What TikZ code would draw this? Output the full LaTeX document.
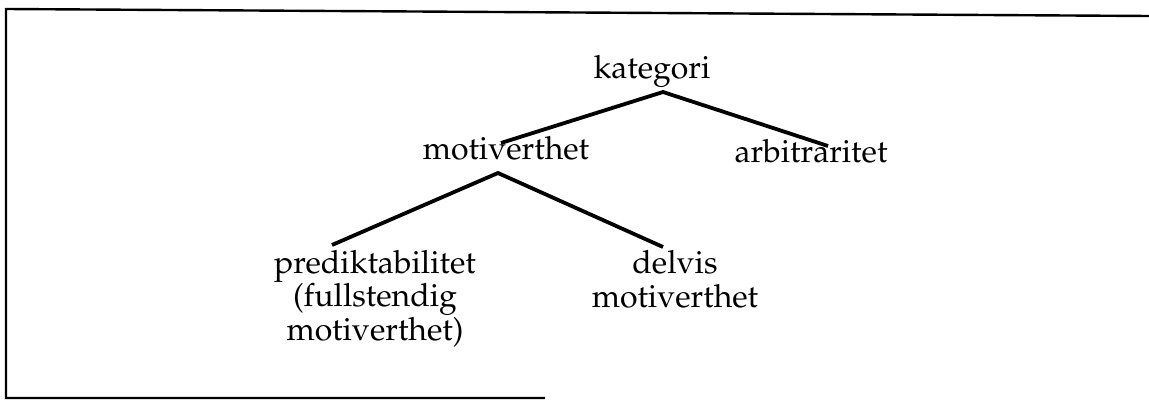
\documentclass[tikz,border=0pt]{standalone}
\usepackage[T1]{fontenc}
\renewcommand{\rmdefault}{ppl}
\begin{document}
\begin{tikzpicture}[x=1pt,y=-1pt,
  term/.style={font=\fontsize{32}{33.5}\selectfont, inner sep=0pt, align=center, anchor=base},
  branch/.style={line width=3.8pt},
  frameline/.style={line width=2.4pt}]
\useasboundingbox (0,0) rectangle (1149,401);
% open frame round the tree
\draw[frameline] (1149,16) -- (6,9) -- (6,398) -- (545,398);
% terms (anchored at the baseline of their last line)
\node[term] (kat)  at (652,79)  {kategori};
\node[term] (mot)  at (506,160) {motiverthet};
\node[term] (arb)  at (811,163) {arbitraritet};
\node[term] (pred) at (375,340) {prediktabilitet\\(fullstendig\\motiverthet)};
\node[term] (del)  at (675,307) {delvis\\motiverthet};
% branch ends
\coordinate (kat-s)  at (663,92);
\coordinate (mot-n)  at (501,143);
\coordinate (arb-n)  at (828,146);
\coordinate (mot-s)  at (498,173);
\coordinate (pred-n) at (332,245);
\coordinate (del-n)  at (663,247);
% branches
\draw[branch] (mot-n) -- (kat-s) -- (arb-n);
\draw[branch] (pred-n) -- (mot-s) -- (del-n);
\end{tikzpicture}
\end{document}
